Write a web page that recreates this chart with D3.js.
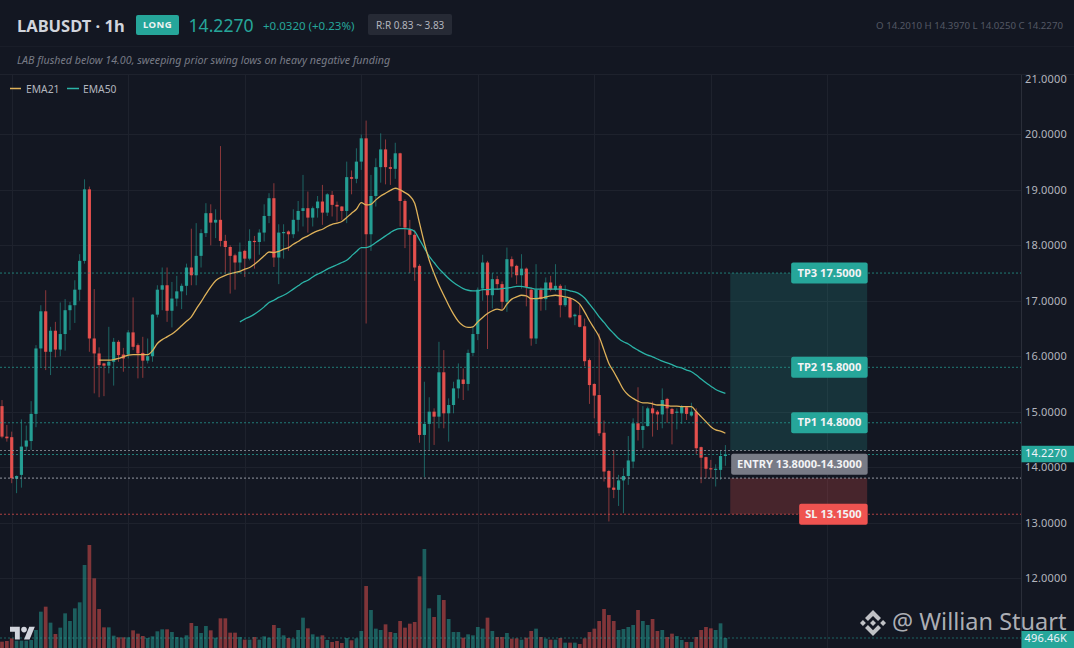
<!DOCTYPE html>
<html><head><meta charset="utf-8">
<script src="https://cdn.jsdelivr.net/npm/d3@7/dist/d3.min.js"></script>
<style>
html,body{margin:0;padding:0;background:#131722;overflow:hidden}
svg{display:block}
text{font-family:"Noto Sans",sans-serif}
</style></head><body><svg id="c" width="1074" height="648"></svg>
<script>
const opens=[15.10,14.55,14.54,13.79,13.86,14.37,14.47,14.96,16.14,16.81,16.08,16.46,16.12,16.40,16.83,16.92,17.20,17.72,19.01,16.32,16.05,15.87,15.83,15.90,16.26,16.03,16.03,16.43,16.20,16.06,15.92,16.00,16.75,17.20,17.28,16.82,17.04,17.17,17.27,17.60,17.46,17.81,18.22,18.58,18.41,18.46,18.08,17.97,17.82,17.69,17.90,17.76,18.08,18.06,18.23,18.53,18.85,17.78,18.23,18.25,18.20,18.46,18.62,18.67,18.50,18.67,18.79,18.59,18.91,18.73,18.70,18.62,19.23,19.20,19.51,19.93,18.20,18.89,19.41,19.73,19.41,19.38,19.66,18.80,18.28,18.19,17.63,14.58,14.78,15.00,14.91,15.71,14.97,15.12,15.42,15.58,15.50,16.06,16.40,17.22,17.69,17.10,17.39,17.30,16.98,17.75,17.63,17.46,17.58,17.20,16.32,17.20,17.03,17.33,17.20,17.27,16.92,17.05,16.72,16.74,16.54,15.93,15.50,15.30,14.62,13.93,13.63,13.59,13.76,13.84,14.10,14.79,14.67,14.74,15.06,15.00,14.95,15.23,15.05,14.98,14.97,15.08,14.93,15.00,14.36,14.18,13.98,13.95,13.95,14.201];
const highs=[15.21,14.76,14.64,13.85,14.86,14.75,15.19,16.20,16.92,17.19,16.53,16.62,16.97,17.03,16.98,17.37,17.84,19.19,19.06,17.21,16.16,15.88,16.53,16.33,16.29,16.15,16.47,17.06,16.23,16.35,16.32,16.76,17.28,17.60,17.60,17.34,17.45,17.31,17.67,18.30,18.40,18.29,18.76,18.74,18.65,19.79,18.19,18.00,17.85,18.05,17.92,18.29,18.17,18.29,18.74,18.94,19.12,18.38,18.38,18.27,18.65,18.80,19.27,18.97,18.70,18.89,19.09,18.94,18.98,18.79,18.71,19.51,19.35,19.75,20.00,20.25,19.27,19.57,20.02,19.91,19.55,19.85,19.67,18.83,18.46,18.28,17.66,15.54,15.26,15.06,16.26,16.11,15.24,15.54,15.87,15.78,16.12,16.53,17.24,17.83,17.72,17.50,17.45,17.35,17.96,17.80,17.65,17.84,17.60,17.24,17.66,17.24,17.42,17.45,17.66,17.30,17.28,17.07,16.77,16.92,16.68,15.96,15.51,16.41,14.84,13.95,14.30,13.86,13.98,14.56,14.88,15.44,15.10,15.09,15.18,15.03,15.42,15.25,15.07,15.06,15.12,15.10,15.16,15.06,14.37,14.19,14.13,14.05,14.31,14.397];
const lows=[14.52,14.46,13.71,13.53,13.63,14.29,14.31,14.72,15.81,15.75,15.66,15.98,16.00,16.10,16.47,16.60,17.00,17.67,16.08,15.33,15.26,15.28,15.69,15.47,15.90,15.72,15.96,16.11,15.60,15.61,15.87,15.90,16.70,16.83,16.62,16.52,16.90,16.85,17.10,17.28,17.28,17.60,18.15,18.00,18.13,17.98,17.49,17.13,17.20,17.50,17.43,17.73,17.58,17.83,18.07,18.40,17.61,17.30,17.76,17.90,18.13,18.25,18.34,18.23,18.34,18.50,18.37,18.53,18.52,18.43,18.46,18.40,18.92,19.12,19.36,16.59,17.90,18.70,19.13,19.10,19.09,19.20,18.34,17.95,17.50,17.36,14.44,13.82,14.31,14.40,14.70,14.70,14.46,14.97,15.24,15.21,15.38,16.00,16.29,17.00,16.13,16.86,17.20,16.83,16.80,17.42,17.30,17.22,16.90,16.19,16.22,16.82,16.83,17.17,17.17,16.70,16.89,16.68,16.56,16.52,15.82,15.14,14.88,14.56,13.74,13.02,13.44,13.30,13.17,13.68,13.98,14.48,14.34,14.73,14.55,14.67,14.70,14.80,14.41,14.68,14.78,14.85,14.91,14.24,13.71,13.80,13.80,13.65,13.77,14.025];
const closes=[14.55,14.52,13.80,13.84,14.37,14.48,14.96,16.14,16.81,16.08,16.46,16.12,16.40,16.83,16.92,17.20,17.72,19.01,16.32,16.05,15.84,15.83,15.90,16.26,16.02,15.96,16.43,16.17,16.05,15.92,16.00,16.75,17.20,17.28,16.82,17.04,17.17,17.27,17.60,17.46,17.81,18.22,18.58,18.41,18.46,18.08,17.97,17.81,17.69,17.885,17.76,18.08,18.06,18.23,18.53,18.85,17.78,18.23,18.24,18.20,18.46,18.62,18.67,18.50,18.67,18.79,18.59,18.92,18.73,18.70,18.62,19.23,19.20,19.51,19.93,18.20,18.89,19.41,19.73,19.41,19.38,19.66,18.80,18.32,18.19,17.60,14.58,14.78,15.00,14.91,15.71,14.97,15.12,15.42,15.58,15.50,16.06,16.40,17.20,17.69,17.10,17.39,17.30,16.98,17.75,17.62,17.46,17.58,17.25,16.32,17.20,17.03,17.33,17.20,17.27,16.92,17.05,16.70,16.75,16.53,15.91,15.48,15.29,14.61,13.92,13.63,13.59,13.76,13.84,14.12,14.79,14.67,14.74,15.06,14.97,14.95,15.21,15.06,14.96,15.00,15.09,14.96,15.00,14.34,14.17,13.97,13.96,13.97,14.20,14.227];
const volumesK=[314,348,480,364,364,364,397,894,1804,2052,1258,695,1010,1721,1341,1969,2267,4121,5114,3459,1936,1026,1026,612,530,530,530,877,712,596,497,579,828,927,927,794,546,513,629,1241,1092,745,1092,877,513,1473,1473,761,761,546,414,414,546,414,579,513,1142,993,629,497,464,894,1506,976,679,563,629,397,298,348,248,497,381,480,844,3078,1887,960,894,1175,794,745,1341,1010,1208,1291,3558,4915,1969,1539,2631,2383,1440,794,794,513,679,629,1043,960,1506,844,546,546,745,464,480,414,513,844,960,546,464,414,414,497,265,265,265,199,480,794,960,1341,1936,1638,1341,894,943,1043,1142,1887,1341,1142,1440,844,894,546,712,596,397,298,298,546,894,1043,976,894,1225,496.46];
const ema21Start=20;
const ema21=[15.93,15.93,15.93,15.94,15.96,15.99,16.02,16.03,16.03,16.03,16.03,16.10,16.23,16.30,16.35,16.40,16.47,16.55,16.63,16.71,16.85,16.98,17.12,17.25,17.36,17.42,17.46,17.49,17.51,17.53,17.57,17.60,17.66,17.73,17.81,17.88,17.87,17.89,17.93,17.96,18.02,18.07,18.13,18.17,18.22,18.26,18.29,18.34,18.38,18.40,18.43,18.50,18.58,18.65,18.77,18.73,18.74,18.82,18.89,18.94,18.99,19.03,19.00,18.95,18.89,18.76,18.40,18.04,17.73,17.49,17.28,17.10,16.92,16.76,16.63,16.55,16.52,16.53,16.62,16.70,16.77,16.82,16.85,16.83,16.94,17.03,17.07,17.10,17.09,17.04,17.04,17.05,17.07,17.09,17.10,17.09,17.07,17.05,17.01,16.94,16.80,16.64,16.50,16.35,16.11,15.87,15.72,15.56,15.40,15.30,15.24,15.19,15.16,15.16,15.14,15.12,15.12,15.11,15.10,15.10,15.09,15.09,15.09,15.00,14.91,14.82,14.73,14.67,14.65,14.61];
const ema50Start=49;
const ema50=[16.62,16.67,16.71,16.76,16.82,16.89,16.97,17.01,17.06,17.10,17.15,17.21,17.27,17.33,17.37,17.43,17.48,17.52,17.57,17.61,17.65,17.69,17.73,17.81,17.89,17.96,17.96,17.99,18.05,18.11,18.17,18.23,18.28,18.30,18.30,18.29,18.25,18.10,17.95,17.80,17.69,17.58,17.49,17.40,17.33,17.27,17.22,17.19,17.18,17.18,17.20,17.20,17.21,17.21,17.22,17.23,17.24,17.26,17.26,17.24,17.23,17.21,17.21,17.21,17.21,17.21,17.21,17.20,17.18,17.16,17.12,17.05,16.94,16.83,16.71,16.61,16.50,16.41,16.32,16.26,16.22,16.16,16.11,16.06,16.02,15.99,15.95,15.91,15.88,15.85,15.81,15.79,15.75,15.72,15.66,15.59,15.52,15.46,15.40,15.36,15.33];
const priceTicks=[21,20,19,18,17,16,15,14,13,12];
const timeGridIdx=[2,26,50,74,98,122,146,170];
const tpLevels=[{name:"TP3",v:17.5},{name:"TP2",v:15.8},{name:"TP1",v:14.8}];
const entryLow=13.8,entryHigh=14.3,stopLoss=13.15,lastPrice=14.227,lastVolumeK=496.46;
const zoneIdx=[150,178.2];

const GREEN="#26a69a",RED="#ef5350";
const svg=d3.select("#c");
const x=d3.scaleLinear().domain([0,149]).range([2,2+149*4.855]);
const y=d3.scaleLinear().domain([12,21]).range([578,79]);
const vy=d3.scaleLinear().domain([0,5114]).range([648,545]);
const axisX=1021.5,W=1074,H=648;

svg.append("rect").attr("width",W).attr("height",H).attr("fill","#131722");
[46.5,74.5].forEach(v=>svg.append("line").attr("x1",0).attr("x2",W).attr("y1",v).attr("y2",v)
  .attr("stroke",v<50?"#191d28":"#1e222d"));
const grid=svg.append("g").attr("stroke","#1e222d").attr("stroke-width",1);
grid.selectAll(".h").data(priceTicks.filter(t=>t<21)).join("line").attr("x1",0).attr("x2",axisX)
  .attr("y1",d=>Math.round(y(d))+.5).attr("y2",d=>Math.round(y(d))+.5);
grid.selectAll(".v").data(timeGridIdx).join("line").attr("y1",75).attr("y2",H)
  .attr("x1",d=>Math.round(x(d))+.5).attr("x2",d=>Math.round(x(d))+.5);

const isUp=i=>closes[i]>=opens[i];
svg.append("g").selectAll("rect").data(volumesK).join("rect")
  .attr("x",(d,i)=>x(i)-1.85).attr("width",3.7)
  .attr("y",d=>vy(d)).attr("height",d=>H-vy(d))
  .attr("fill",(d,i)=>isUp(i)?GREEN:RED).attr("fill-opacity",.5);

const cg=svg.append("g");
const idx=d3.range(opens.length);
cg.selectAll(".w").data(idx).join("line")
  .attr("x1",i=>x(i)).attr("x2",i=>x(i)).attr("y1",i=>y(highs[i])).attr("y2",i=>y(lows[i]))
  .attr("stroke",i=>isUp(i)?GREEN:RED).attr("stroke-width",1).attr("stroke-opacity",.55);
cg.selectAll(".b").data(idx).join("rect")
  .attr("x",i=>x(i)-1.6).attr("width",3.2)
  .attr("y",i=>y(Math.max(opens[i],closes[i])))
  .attr("height",i=>Math.max(1.2,Math.abs(y(opens[i])-y(closes[i]))))
  .attr("fill",i=>isUp(i)?GREEN:RED).attr("fill-opacity",.93);

const line=s=>d3.line().x((d,i)=>x(i+s)).y(d=>y(d)).curve(d3.curveMonotoneX);
svg.append("path").attr("d",line(ema50Start)(ema50)).attr("fill","none").attr("stroke","#2bb3a7").attr("stroke-width",1.3);
svg.append("path").attr("d",line(ema21Start)(ema21)).attr("fill","none").attr("stroke","#dfb25a").attr("stroke-width",1.3);

const zx0=x(zoneIdx[0]),zx1=x(zoneIdx[1]);
svg.append("rect").attr("x",zx0).attr("width",zx1-zx0).attr("y",y(tpLevels[0].v)).attr("height",y(entryHigh)-y(tpLevels[0].v)).attr("fill",GREEN).attr("fill-opacity",.2);
svg.append("rect").attr("x",zx0).attr("width",zx1-zx0).attr("y",y(entryLow)).attr("height",y(stopLoss)-y(entryLow)).attr("fill",RED).attr("fill-opacity",.24);

const lvl=(v,c,dash,op,w)=>svg.append("line").attr("x1",0).attr("x2",axisX).attr("y1",y(v)).attr("y2",y(v))
  .attr("stroke",c).attr("stroke-dasharray",dash).attr("stroke-opacity",op).attr("stroke-width",w||1);
tpLevels.forEach(t=>lvl(t.v,GREEN,"2 2",.7));
lvl(lastPrice,GREEN,"2 2",.75);
lvl(entryHigh,"#9598a1","2 2",.8,1.2);
lvl(entryLow,"#9598a1","2 2",.8,1.2);
lvl(stopLoss,RED,"2 2",.7);
svg.append("line").attr("x1",0).attr("x2",axisX).attr("y1",vy(lastVolumeK)).attr("y2",vy(lastVolumeK))
  .attr("stroke",GREEN).attr("stroke-dasharray","2 2").attr("stroke-opacity",.55);

const label=(txt,yc,w,fill)=>{
  const g=svg.append("g");
  g.append("rect").attr("x",zx1+.5-w).attr("y",yc-10.5).attr("width",w).attr("height",21).attr("rx",2).attr("fill",fill);
  g.append("text").attr("x",zx1+.5-w/2).attr("y",yc+.5).attr("text-anchor","middle").attr("dominant-baseline","middle")
   .attr("fill","#f2f3f5").attr("font-size",11.1).attr("font-weight",700).text(txt);
};
tpLevels.forEach(t=>label(`${t.name} ${t.v.toFixed(4)}`,y(t.v),76.5,GREEN));
label(`ENTRY ${entryLow.toFixed(4)}-${entryHigh.toFixed(4)}`,y((entryLow+entryHigh)/2),136.5,"#787b86");
label(`SL ${stopLoss.toFixed(4)}`,y(stopLoss),68.5,RED);

svg.append("rect").attr("x",axisX).attr("y",75).attr("width",W-axisX).attr("height",H-75).attr("fill","#131722");
const ax=d3.axisRight(y).tickValues(priceTicks).tickSize(0).tickPadding(0).tickFormat(d=>d.toFixed(4));
const ag=svg.append("g").attr("transform",`translate(${1064},0)`).call(ax);
ag.select(".domain").remove();
ag.selectAll("text").attr("x",3).attr("text-anchor","end").attr("fill","#b2b5be").attr("font-size",11).attr("font-family",'"Noto Sans",sans-serif').attr("letter-spacing",.18);
svg.append("line").attr("x1",axisX).attr("x2",axisX).attr("y1",75).attr("y2",H).attr("stroke","#2a2e39");

const tag=(yc,h,txt)=>{
  svg.append("rect").attr("x",axisX).attr("y",yc-h/2).attr("width",W-axisX).attr("height",h).attr("fill",GREEN);
  svg.append("text").attr("x",1067).attr("y",yc).attr("text-anchor","end").attr("dominant-baseline","middle")
    .attr("fill","#f0f3fa").attr("font-size",11).attr("letter-spacing",.18).text(txt);
};
tag(y(lastPrice)-.5,16.5,lastPrice.toFixed(4));

const bin=svg.append("g").attr("transform","translate(860,610) scale(0.2054)").attr("fill","#d8d9dc").attr("fill-opacity",.88);
bin.append("path").attr("d","M38.73 53.2l24.59-24.58 24.6 24.6 14.3-14.31L63.32 0 24.43 38.9l14.3 14.3zM0 63.31l14.3-14.31 14.31 14.31-14.31 14.3L0 63.31zM38.73 73.41l24.59 24.59 24.6-24.59 14.31 14.29-.01.01-38.9 38.9-38.89-38.88-.02-.02 14.32-14.3zM98 63.31l14.3-14.31 14.31 14.3-14.31 14.32L98 63.31zM77.83 63.3h.01L63.32 48.78 52.59 59.51l-1.23 1.23-2.54 2.54-.02.02.02.02 14.5 14.51L77.84 63.32l.01-.01z");
tag(639.5,17,lastVolumeK.toFixed(2)+"K");
svg.append("text").attr("x",892).attr("y",630).attr("fill","#c9cbd0").attr("fill-opacity",.85).attr("font-size",23.5).text("@ Willian Stuart");

const tv=svg.append("g").attr("transform","translate(10,624) scale(0.7)").attr("fill","#d1d4dc");
tv.append("path").attr("d","M14 22H7V11H0V4h14v18zM28 22h-8l7.5-18h8L28 22z");
tv.append("circle").attr("cx",20).attr("cy",8).attr("r",4);

const T=(xx,yy,s,fs,fill,extra={})=>{const t=svg.append("text").attr("x",xx).attr("y",yy).attr("font-size",fs).attr("fill",fill).text(s);
  Object.entries(extra).forEach(([k,v])=>t.attr(k,v));return t;};
T(17,32,"LABUSDT · 1h",16.5,"#d1d4dc",{"font-weight":700});
svg.append("rect").attr("x",136).attr("y",15).attr("width",43).attr("height",20).attr("rx",2).attr("fill",GREEN);
T(157.5,25.5,"LONG",9.5,"#eef3f3",{"font-weight":700,"text-anchor":"middle","dominant-baseline":"middle","letter-spacing":.4});
T(188.5,32,lastPrice.toFixed(4),17.6,GREEN);
T(263,30,"+0.0320 (+0.23%)",11.5,GREEN);
svg.append("rect").attr("x",368).attr("y",14).attr("width",84).attr("height",21).attr("rx",2).attr("fill","#262a35");
T(376,29,"R:R 0.83 ~ 3.83",10,"#b2b5be");
T(1063,29,"O 14.2010 H 14.3970 L 14.0250 C 14.2270",9.7,"#545864",{"text-anchor":"end"});
T(17,64,"LAB flushed below 14.00, sweeping prior swing lows on heavy negative funding",10.7,"#787b86",{"font-style":"italic"});
[[10,21,26,"EMA21","#dfb25a"],[67,79,83,"EMA50","#2bb3a7"]].forEach(([a,b,c,s,col])=>{
  svg.append("line").attr("x1",a).attr("x2",b).attr("y1",88.5).attr("y2",88.5).attr("stroke",col).attr("stroke-width",1.5);
  T(c,92.5,s,10.3,"#b2b5be");
});
</script></body></html>
